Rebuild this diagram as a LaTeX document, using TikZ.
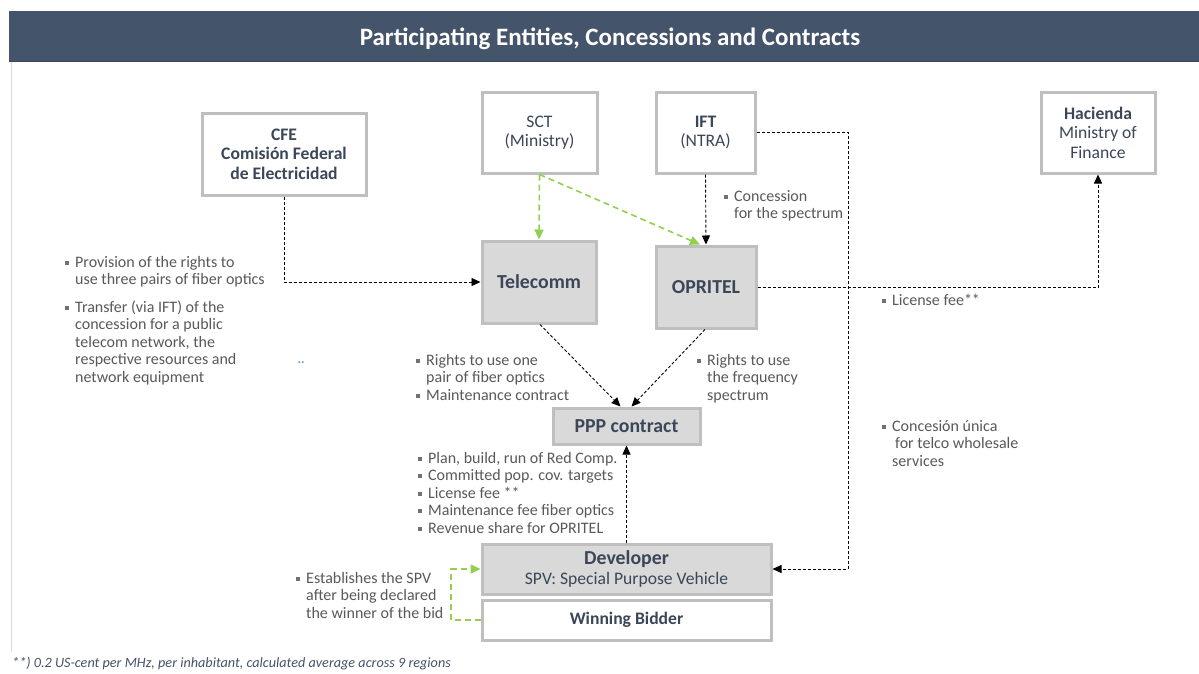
\documentclass[tikz,border=0pt]{standalone}
\usepackage{fontspec}
\setmainfont{Carlito}
\usetikzlibrary{arrows.meta}
\definecolor{band}{HTML}{44546A}
\definecolor{bandedge}{HTML}{3A4659}
\definecolor{rulecol}{HTML}{D6DCE5}
\definecolor{boxline}{HTML}{BFBFBF}
\definecolor{boxfill}{HTML}{D9D9D9}
\definecolor{ink}{HTML}{3B4658}
\definecolor{note}{HTML}{595959}
\definecolor{grn}{HTML}{92D050}
\definecolor{dotblue}{HTML}{5B9BD5}
% small square bullet
\newcommand\sqb{\textcolor{note!85}{\rule[2.5pt]{4pt}{4pt}}}
\newenvironment{blist}{\begin{tabular}[t]{@{}l@{\hspace{6pt}}l@{}}}{\end{tabular}}
\tikzset{
  box/.style={draw=boxline, line width=3pt, fill=white, text=ink, align=center,
    inner sep=2pt, font=\fontsize{17.6}{19.5}\selectfont},
  gbox/.style={box, fill=boxfill},
  conn/.style={draw=black, line width=0.9pt, dash pattern=on 3pt off 2pt,
    -{Triangle[length=9pt,width=8pt]}},
  gconn/.style={color=grn, line width=1.6pt, dash pattern=on 6pt off 4pt,
    -{Triangle[length=10pt,width=9pt]}},
  lbl/.style={anchor=base west, inner sep=0pt, text=note,
    font=\fontsize{16}{17.5}\selectfont}
}
\begin{document}
\begin{tikzpicture}[x=1pt,y=-1pt]
\useasboundingbox (0,0) rectangle (1199,673);
\fill[white] (0,0) rectangle (1199,673);

% title band
\fill[band] (9,11) rectangle (1199,62);
\draw[bandedge, line width=1.2pt] (9,61.5) -- (1199,61.5);
\node[text=white, font=\fontsize{25}{28}\selectfont\bfseries] (title) at (610,39)
  {Participating Entities, Concessions and Contracts};
\draw[rulecol, line width=1pt] (11.5,62) -- (11.5,652);

% entities
\node[box, minimum width=164pt, minimum height=82pt] (cfe) at (284,154)
  {\bfseries CFE\\ \bfseries Comisión Federal\\ \bfseries de Electricidad};
\node[box, minimum width=115pt, minimum height=81pt] (sct) at (539.5,132.5)
  {SCT\\(Ministry)};
\node[box, minimum width=99pt, minimum height=81pt] (ift) at (705.5,132.5)
  {\bfseries IFT\\(NTRA)};
\node[box, minimum width=114pt, minimum height=81pt] (hac) at (1098,132.5)
  {\bfseries Hacienda\\Ministry of\\Finance};
\node[gbox, minimum width=114pt, minimum height=82pt,
  font=\fontsize{19.8}{22}\selectfont\bfseries] (tel) at (539,282) {Telecomm};
\node[gbox, minimum width=100pt, minimum height=82pt,
  font=\fontsize{19.8}{22}\selectfont\bfseries] (opr) at (706,287) {OPRITEL};
\node[gbox, minimum width=147pt, minimum height=36pt,
  font=\fontsize{19.8}{22}\selectfont\bfseries] (ppp) at (626.5,426) {PPP contract};
\node[gbox, minimum width=289pt, minimum height=50pt] (dev) at (626.5,569)
  {{\fontsize{19.8}{19.5}\selectfont\bfseries Developer}\\SPV: Special Purpose Vehicle};
\node[box, minimum width=289pt, minimum height=40pt, font=\fontsize{17.6}{19}\selectfont\bfseries]
  (win) at (626.5,620) {Winning Bidder};

% bend points
\coordinate (iftbend) at (848,132.5);
\coordinate (gbend) at (451,620);

% connectors
\draw[conn] (cfe.south) |- (tel.west);
\draw[gconn] (sct.south) -- (tel.north);
\draw[gconn] (sct.south) -- ([xshift=-6pt]opr.north);
\draw[conn] (ift.south) -- (opr.north);
\draw[conn] (ift.east) -- (iftbend) |- (dev.east);
\draw[conn] (opr.east) -| (hac.south);
\draw[conn] ([xshift=1pt]tel.south) -- ([xshift=-6pt]ppp.north);
\draw[conn] ([xshift=-1pt]opr.south) -- ([xshift=5pt]ppp.north);
\draw[conn] (dev.north) -- (ppp.south);
\draw[gconn] (win.west) -- (gbend) |- (dev.west);

% notes
\node[lbl] (nprov) at (65,267) {\begin{blist}
  \sqb & Provision of the rights to\\
       & use three pairs of fiber optics
\end{blist}};
\node[lbl] (ntrans) at (65,312) {\begin{blist}
  \sqb & Transfer (via IFT) of the\\
       & concession for a public\\
       & telecom network, the\\
       & respective resources and\\
       & network equipment
\end{blist}};
\node[text=dotblue, font=\fontsize{13}{14}\selectfont\bfseries, inner sep=0pt] (dots) at (301,363) {..};
\node[lbl] (nconc) at (724,201) {\begin{blist}
  \sqb & Concession\\
       & for the spectrum
\end{blist}};
\node[lbl] (nlic) at (882,305) {\begin{blist}
  \sqb & License fee**
\end{blist}};
\node[lbl] (nfib) at (416,365) {\begin{blist}
  \sqb & Rights to use one\\
       & pair of fiber optics\\
  \sqb & Maintenance contract
\end{blist}};
\node[lbl] (nfreq) at (697,365) {\begin{blist}
  \sqb & Rights to use\\
       & the frequency\\
       & spectrum
\end{blist}};
\node[lbl] (nunica) at (882,431) {\begin{blist}
  \sqb & Concesión única\\
       & \hspace{3pt}for telco wholesale\\
       & services
\end{blist}};
\node[lbl] (nppp) at (418,463) {\begin{blist}
  \sqb & Plan, build, run of Red Comp.\\
  \sqb & Committed pop. cov. targets\\
  \sqb & License fee **\\
  \sqb & Maintenance fee fiber optics\\
  \sqb & Revenue share for OPRITEL
\end{blist}};
\node[lbl] (nspv) at (296,583) {\begin{blist}
  \sqb & Establishes the SPV\\
       & after being declared\\
       & the winner of the bid
\end{blist}};

% footnote
\node[anchor=base west, inner sep=0pt, text=band, font=\fontsize{14.2}{16}\selectfont\itshape]
  (foot) at (12,667) {**) 0.2 US-cent per MHz, per inhabitant, calculated average across 9 regions};
\end{tikzpicture}
\end{document}
